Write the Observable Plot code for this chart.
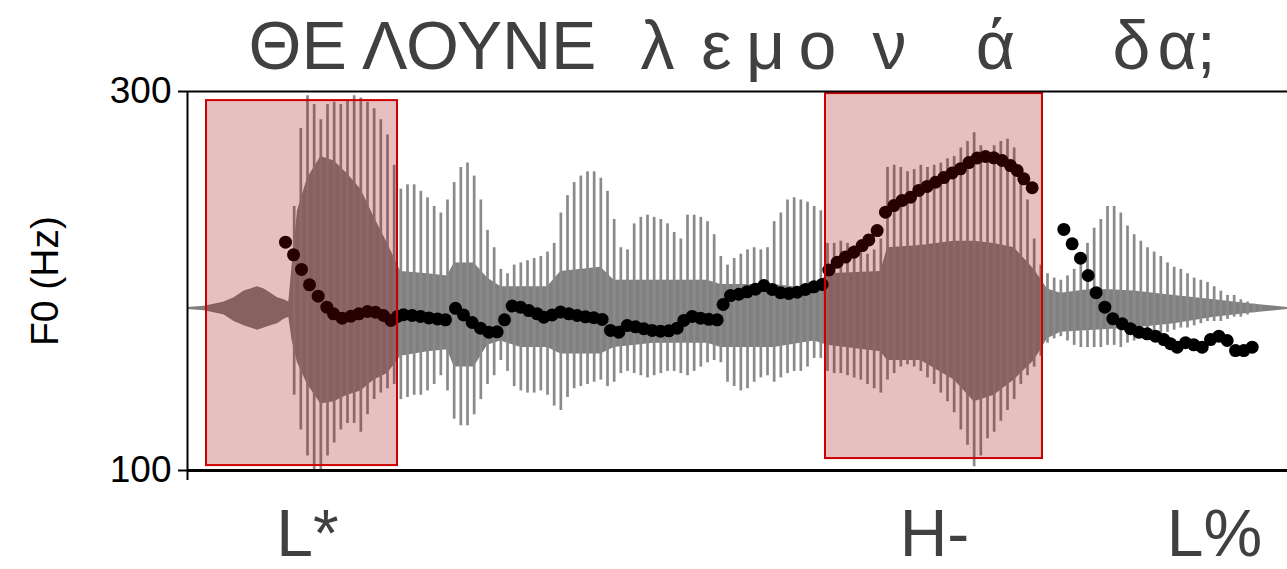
<!DOCTYPE html>
<html>
<head>
<meta charset="utf-8">
<script src="https://cdn.jsdelivr.net/npm/d3@7"></script>
<script src="https://cdn.jsdelivr.net/npm/@observablehq/plot@0.6"></script>
<style>
  html, body { margin: 0; padding: 0; background: #fff; }
</style>
</head>
<body>
<div id="chart"></div>
<script>
// Orthographic syllables above the utterance and their time positions (s)
const titleSyllables = ["ΘΕ ΛΟΥΝΕ", "λ", "ε", "μ", "ο", "ν", "ά", "δ", "α;"];
const titleTimes = [0.3525, 0.705, 0.7935, 0.867, 0.945, 1.053, 1.212, 1.416, 1.4985];

// ToBI tone labels and their time positions (s)
const toneLabels = ["L*", "H-", "L%"];
const toneTimes = [0.18, 1.1205, 1.5405];

// Highlighted accent regions (time in s, frequency in Hz)
const regionStart = [0.0285, 0.957];
const regionEnd = [0.315, 1.2825];
const regionTop = [295.2, 298.9];
const regionBottom = [102.6, 106.3];

// F0 track: time (s) and pitch (Hz)
const f0Time = [
  0.147, 0.159, 0.171, 0.183, 0.196, 0.209, 0.219, 0.232, 0.245, 0.257,
  0.270, 0.282, 0.294, 0.305, 0.315, 0.324, 0.337, 0.3495, 0.362, 0.375,
  0.387, 0.402, 0.414, 0.427, 0.4395, 0.452, 0.4645, 0.4755, 0.487, 0.4995,
  0.512, 0.5245, 0.5345, 0.547, 0.5595, 0.572, 0.5845, 0.597, 0.6095, 0.622,
  0.6345, 0.647, 0.6595, 0.672, 0.6845, 0.697, 0.7095, 0.722, 0.7345, 0.7445,
  0.757, 0.7695, 0.782, 0.7945, 0.8035, 0.8145, 0.827, 0.8395, 0.852, 0.8645,
  0.877, 0.8895, 0.902, 0.9145, 0.927, 0.9395, 0.952, 0.962, 0.9745, 0.987,
  0.9995, 1.012, 1.022, 1.0345, 1.047, 1.0595, 1.072, 1.0845, 1.097, 1.1095,
  1.122, 1.1345, 1.147, 1.1595, 1.172, 1.1845, 1.197, 1.2095, 1.222, 1.2345,
  1.2445, 1.2545, 1.267,
  1.3145, 1.327, 1.3395, 1.351, 1.363, 1.376, 1.388, 1.402, 1.4145, 1.427,
  1.4395, 1.452, 1.4645, 1.4745, 1.4845, 1.497, 1.5095, 1.522, 1.5345, 1.547,
  1.5595, 1.572, 1.5845, 1.597
];
const f0Hz = [
  220.5, 213.8, 206.1, 198.0, 192.0, 186.2, 182.7, 180.4, 181.4, 182.7,
  183.9, 183.5, 181.8, 179.2, 181.3, 182.2, 181.8, 181.3, 180.5, 180.0,
  179.5, 185.6, 182.1, 178.1, 175.1, 173.0, 173.2, 179.5, 186.8, 186.2,
  184.4, 182.7, 180.9, 182.1, 183.6, 182.7, 181.8, 181.1, 180.6, 179.7,
  173.9, 173.0, 176.5, 175.8, 174.8, 173.9, 173.5, 173.7, 175.1, 179.2,
  181.3, 180.4, 179.8, 179.5, 187.6, 192.3, 193.0, 194.3, 195.7, 197.6,
  195.5, 193.8, 193.4, 194.1, 195.5, 196.9, 198.2, 205.8, 209.9, 212.6,
  215.2, 218.7, 221.7, 226.6, 236.3, 239.8, 242.5, 244.2, 247.8, 249.9,
  252.1, 254.6, 257.0, 259.2, 262.5, 264.9, 265.7, 265.0, 263.6, 260.9,
  258.3, 253.9, 249.2,
  227.2, 219.6, 212.0, 202.9, 193.8, 186.2, 180.1, 177.4, 174.8, 173.0,
  172.1, 170.9, 169.1, 166.9, 165.1, 167.4, 166.3, 165.1, 169.1, 170.9,
  168.6, 163.3, 163.3, 165.1
];

// Waveform: glottal pulse peaks (normalized amplitude, +1 = full scale)
const spikeTime = [
  0.16, 0.17, 0.18, 0.19, 0.20, 0.21, 0.22, 0.23, 0.24, 0.25,
  0.26, 0.27, 0.28, 0.29, 0.30, 0.31, 0.32, 0.33, 0.34, 0.35,
  0.36, 0.37, 0.38, 0.39, 0.40, 0.41, 0.42, 0.43, 0.44, 0.45,
  0.46, 0.47, 0.48, 0.49, 0.50, 0.51, 0.52, 0.53, 0.54, 0.55,
  0.56, 0.57, 0.58, 0.59, 0.60, 0.61, 0.62, 0.63, 0.64, 0.65,
  0.66, 0.67, 0.68, 0.69, 0.70, 0.71, 0.72, 0.73, 0.74, 0.75,
  0.76, 0.77, 0.78, 0.79, 0.80, 0.81, 0.82, 0.83, 0.84, 0.85,
  0.86, 0.87, 0.88, 0.89, 0.90, 0.91, 0.92, 0.93, 0.94, 0.95,
  0.96, 0.97, 0.98, 0.99, 1.00, 1.01, 1.02, 1.03, 1.04, 1.05,
  1.06, 1.07, 1.08, 1.09, 1.10, 1.11, 1.12, 1.13, 1.14, 1.15,
  1.16, 1.17, 1.18, 1.19, 1.20, 1.21, 1.22, 1.23, 1.24, 1.25,
  1.26, 1.27, 1.28, 1.29, 1.30, 1.31, 1.32, 1.33, 1.34, 1.35,
  1.36, 1.37, 1.38, 1.39, 1.40, 1.41, 1.42, 1.43, 1.44, 1.45,
  1.46, 1.47, 1.48, 1.49, 1.50, 1.51, 1.52, 1.53, 1.54, 1.55,
  1.56, 1.57, 1.58, 1.59, 1.60, 1.61
];
const spikeHigh = [
  0.47, 0.83, 0.98, 0.94, 0.87, 0.94, 0.95, 0.94, 0.96, 0.98,
  0.97, 0.95, 0.92, 0.87, 0.80, 0.66, 0.55, 0.57, 0.57, 0.54,
  0.51, 0.47, 0.44, 0.50, 0.58, 0.65, 0.67, 0.61, 0.50, 0.36,
  0.28, 0.18, 0.16, 0.20, 0.21, 0.22, 0.23, 0.24, 0.26, 0.30,
  0.44, 0.52, 0.58, 0.61, 0.63, 0.63, 0.60, 0.54, 0.41, 0.28,
  0.27, 0.39, 0.42, 0.43, 0.42, 0.41, 0.39, 0.35, 0.32, 0.43,
  0.43, 0.42, 0.40, 0.34, 0.24, 0.20, 0.23, 0.25, 0.27, 0.28,
  0.27, 0.28, 0.40, 0.44, 0.50, 0.51, 0.50, 0.49, 0.47, 0.45,
  0.30, 0.30, 0.31, 0.30, 0.29, 0.28, 0.25, 0.27, 0.32, 0.65,
  0.66, 0.65, 0.63, 0.64, 0.66, 0.65, 0.66, 0.67, 0.69, 0.70,
  0.74, 0.77, 0.81, 0.75, 0.71, 0.75, 0.77, 0.78, 0.74, 0.64,
  0.50, 0.32, 0.20, 0.16, 0.14, 0.13, 0.15, 0.18, 0.24, 0.30,
  0.37, 0.41, 0.47, 0.47, 0.44, 0.38, 0.34, 0.31, 0.28, 0.26,
  0.24, 0.21, 0.19, 0.18, 0.16, 0.14, 0.13, 0.12, 0.10, 0.08,
  0.06, 0.06, 0.04, 0.03, 0.02, 0.01
];
const spikeLow = [
  -0.40, -0.56, -0.68, -0.75, -0.75, -0.68, -0.62, -0.56, -0.53, -0.53,
  -0.57, -0.49, -0.42, -0.39, -0.37, -0.35, -0.42, -0.41, -0.40, -0.40,
  -0.38, -0.35, -0.31, -0.38, -0.51, -0.54, -0.54, -0.49, -0.42, -0.35,
  -0.31, -0.24, -0.29, -0.36, -0.38, -0.39, -0.39, -0.38, -0.40, -0.45,
  -0.47, -0.41, -0.37, -0.36, -0.35, -0.34, -0.33, -0.36, -0.34, -0.30,
  -0.29, -0.30, -0.31, -0.32, -0.31, -0.30, -0.29, -0.29, -0.30, -0.31,
  -0.29, -0.27, -0.25, -0.24, -0.25, -0.34, -0.36, -0.38, -0.37, -0.34,
  -0.32, -0.31, -0.34, -0.32, -0.30, -0.29, -0.29, -0.27, -0.23, -0.23,
  -0.29, -0.30, -0.30, -0.31, -0.32, -0.33, -0.35, -0.37, -0.39, -0.33,
  -0.30, -0.27, -0.26, -0.27, -0.29, -0.32, -0.35, -0.39, -0.43, -0.48,
  -0.56, -0.63, -0.73, -0.68, -0.60, -0.57, -0.52, -0.47, -0.42, -0.35,
  -0.31, -0.27, -0.22, -0.16, -0.14, -0.13, -0.15, -0.17, -0.18, -0.18,
  -0.18, -0.18, -0.17, -0.17, -0.18, -0.16, -0.15, -0.14, -0.13, -0.12,
  -0.12, -0.11, -0.10, -0.09, -0.09, -0.08, -0.07, -0.06, -0.06, -0.06,
  -0.05, -0.04, -0.04, -0.03, -0.02, -0.01
];

// Waveform: dense body between the pulse peaks (normalized amplitude)
const coreTime = [
  0.000, 0.025, 0.040, 0.055, 0.070, 0.085, 0.095, 0.105, 0.115, 0.125,
  0.135, 0.145, 0.152, 0.157, 0.165, 0.18, 0.20, 0.22, 0.24, 0.26,
  0.28, 0.30, 0.32, 0.36, 0.39, 0.40, 0.43, 0.45, 0.47, 0.50,
  0.54, 0.56, 0.62, 0.64, 0.70, 0.78, 0.80, 0.88, 0.94, 0.96,
  1.04, 1.05, 1.10, 1.15, 1.18, 1.21, 1.24, 1.27, 1.29, 1.31,
  1.36, 1.42, 1.48, 1.54, 1.60, 1.65
];
const coreHigh = [
  0.005, 0.01, 0.02, 0.03, 0.05, 0.08, 0.09, 0.10, 0.09, 0.07,
  0.05, 0.04, 0.03, 0.20, 0.45, 0.60, 0.70, 0.68, 0.62, 0.55,
  0.42, 0.30, 0.17, 0.16, 0.15, 0.21, 0.21, 0.14, 0.10, 0.10,
  0.10, 0.17, 0.19, 0.13, 0.13, 0.13, 0.11, 0.11, 0.09, 0.16,
  0.17, 0.28, 0.29, 0.31, 0.31, 0.30, 0.28, 0.18, 0.09, 0.07,
  0.09, 0.08, 0.06, 0.04, 0.02, 0.005
];
const coreLow = [
  -0.005, -0.01, -0.02, -0.03, -0.06, -0.08, -0.09, -0.10, -0.09, -0.08,
  -0.07, -0.05, -0.04, -0.15, -0.25, -0.35, -0.44, -0.43, -0.40, -0.38,
  -0.33, -0.30, -0.22, -0.20, -0.19, -0.27, -0.27, -0.17, -0.15, -0.18,
  -0.18, -0.21, -0.21, -0.18, -0.16, -0.16, -0.18, -0.18, -0.15, -0.17,
  -0.20, -0.24, -0.24, -0.33, -0.43, -0.40, -0.33, -0.24, -0.14, -0.11,
  -0.10, -0.09, -0.07, -0.04, -0.02, -0.005
];

// The waveform shares the panel with the F0 axis: amplitude 0 sits at
// WAVE_MID Hz and full scale spans WAVE_GAIN Hz.
const WAVE_MID = 185.5;
const WAVE_GAIN = 114.5;
const toHz = a => WAVE_MID + a * WAVE_GAIN;

const spikes = spikeTime.map((t, i) => ({t, hi: spikeHigh[i], lo: spikeLow[i]}));
const core = coreTime.map((t, i) => ({t, hi: coreHigh[i], lo: coreLow[i]}));
const f0 = f0Time.map((t, i) => ({t, hz: f0Hz[i]}));
const regions = regionStart.map((s, i) => ({x1: s, x2: regionEnd[i], y1: regionBottom[i], y2: regionTop[i]}));
const titles = titleSyllables.map((s, i) => ({s, t: titleTimes[i]}));
const tones = toneLabels.map((s, i) => ({s, t: toneTimes[i]}));

const chart = Plot.plot({
  width: 1287,
  height: 569,
  marginLeft: 187,
  marginRight: 0,
  marginTop: 91,
  marginBottom: 99,
  style: {
    fontFamily: "'Liberation Sans', Arial, Helvetica, sans-serif",
    fontSize: "37px",
    background: "#fff",
    color: "#000",
    overflow: "visible"
  },
  x: {domain: [0, 1.65], axis: null},
  y: {domain: [100, 300], axis: null},
  marks: [
    // waveform body and pulse peaks
    Plot.areaY(core, {x: "t", y1: d => toHz(d.lo), y2: d => toHz(d.hi), fill: "#808080"}),
    Plot.ruleX(spikes, {x: "t", y1: d => toHz(d.lo), y2: d => toHz(d.hi), stroke: "#8a8a8a", strokeWidth: 2.7, clip: true}),
    // F0 track
    Plot.dot(f0, {x: "t", y: "hz", r: 6.5, fill: "#000", stroke: "none"}),
    // accent regions
    Plot.rect(regions, {x1: "x1", x2: "x2", y1: "y1", y2: "y2", fill: "#a00000", fillOpacity: 0.25, stroke: "#cc0000", strokeWidth: 2}),
    // panel border
    Plot.ruleY([300], {stroke: "#000", strokeWidth: 2}),
    Plot.ruleY([100], {stroke: "#000", strokeWidth: 3}),
    Plot.ruleX([0], {y1: 300, y2: 100, insetBottom: -10, stroke: "#000", strokeWidth: 2}),
    // y axis
    Plot.axisY({ticks: [100, 300], tickSize: 9, tickPadding: 7, fontSize: 37, strokeWidth: 2, label: null, tickFormat: d => String(d)}),
    Plot.text(["F0 (Hz)"], {frameAnchor: "left", textAnchor: "middle", dx: -142, rotate: -90, fontSize: 39, fill: "#000"}),
    // syllables and tone labels
    Plot.text(titles, {x: "t", text: "s", frameAnchor: "top", dy: -23, lineAnchor: "bottom", fontSize: 68, fill: "#404040"}),
    Plot.text(tones, {x: "t", text: "s", frameAnchor: "bottom", dy: 85, lineAnchor: "bottom", fontSize: 66, fill: "#404040"})
  ]
});

document.getElementById("chart").appendChild(chart);
</script>
</body>
</html>
